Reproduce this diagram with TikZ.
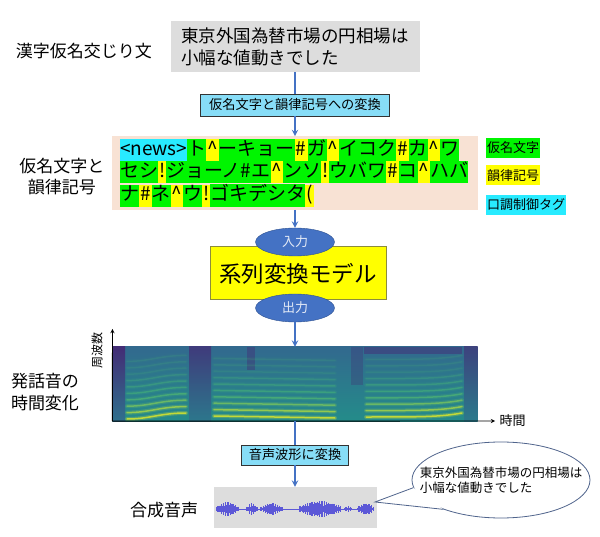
\documentclass[tikz,border=0pt]{standalone}
\usepackage{fontspec}
\setmainfont{Noto Sans CJK JP}
\usetikzlibrary{shapes.geometric,positioning}

\definecolor{boxgray}{RGB}{221,221,221}
\definecolor{convcyan}{RGB}{135,221,247}
\definecolor{peach}{RGB}{248,226,212}
\definecolor{kanagreen}{RGB}{0,245,0}
\definecolor{prosyellow}{RGB}{255,255,0}
\definecolor{tagcyan}{RGB}{40,235,255}
\definecolor{arrowblue}{RGB}{68,114,196}
\definecolor{ioedge}{RGB}{47,82,143}
\definecolor{modeledge}{RGB}{140,140,60}
\definecolor{bubbleedge}{RGB}{80,100,140}
\definecolor{specDark}{RGB}{72,30,112}
\definecolor{specTop}{RGB}{50,105,142}
\definecolor{specBot}{RGB}{36,140,138}
\definecolor{specYellow}{RGB}{215,228,45}
\definecolor{specGreen}{RGB}{75,190,115}
\definecolor{wavecol}{RGB}{92,88,215}

\newcommand{\hlbox}[2]{{\setlength{\fboxsep}{0pt}\colorbox{#1}{\rule[-6pt]{0pt}{22pt}#2}}}
\newcommand{\kseg}[1]{\hlbox{kanagreen}{#1}}
\newcommand{\pseg}[1]{\hlbox{prosyellow}{\kern1pt#1\kern1pt}}

\tikzset{
  flow/.style={draw=arrowblue, line width=1.8pt, -stealth},
  link/.style={draw=arrowblue, line width=1.8pt},
  lbl/.style={font=\fontsize{17}{22}\selectfont, align=center},
  convbox/.style={draw=black!80, fill=convcyan, line width=0.9pt, font=\fontsize{13.2}{16}\selectfont, inner xsep=9pt, minimum height=22pt},
  iobox/.style={ellipse, draw=ioedge, fill=arrowblue, text=white!85!arrowblue, font=\fontsize{13}{16}\selectfont, minimum width=79pt, minimum height=28pt, inner sep=0pt},
  keybox/.style={font=\fontsize{13}{16}\selectfont, inner xsep=1pt, minimum height=20pt, anchor=west},
  harmonic/.style={line width=1.5pt, line cap=round},
  glow/.style={line width=4pt, line cap=round},
  axis/.style={black, line width=0.9pt, -stealth},
}

\begin{document}
\begin{tikzpicture}[x=1pt, y=-1pt]
\useasboundingbox (0,0) rectangle (600,537);

% input sentence
\node[lbl] (kanjilbl) at (84,51) {漢字仮名交じり文};
\node[fill=boxgray, align=left, font=\fontsize{17.5}{22}\selectfont, minimum width=249pt, minimum height=51pt] (src) at (295,46.5) {東京外国為替市場の円相場は\\小幅な値動きでした};
\node[convbox] (conv1) at (295,105) {仮名文字と韻律記号への変換};
\draw[link] (src) -- (conv1);

% kana and prosody symbols
\node[lbl, font=\fontsize{17}{21}\selectfont] (kanalbl) at (62,177) {仮名文字と\\韻律記号};
\node[fill=peach, align=left, text width=350pt, inner xsep=8pt, inner ysep=3pt, font=\fontsize{19}{22}\selectfont] (kana) at (295,173) {\noindent\hlbox{tagcyan}{<news>}\kseg{ト}\pseg{\textasciicircum}\kseg{ーキョー}\pseg{\#}\kseg{ガ}\pseg{\textasciicircum}\kseg{イコク}\pseg{\#}\kseg{カ}\pseg{\textasciicircum}\kseg{ワ}\\
\kseg{セシ}\pseg{!}\kseg{ジョーノ\#エ}\pseg{\textasciicircum}\kseg{ンソ}\pseg{!}\kseg{ウバワ}\pseg{\#}\kseg{コ}\pseg{\textasciicircum}\kseg{ハバ}\\
\kseg{ナ}\pseg{\#}\kseg{ネ}\pseg{\textasciicircum}\kseg{ウ}\pseg{!}\kseg{ゴキデシタ}\pseg{(}};
\draw[flow] (conv1) -- (kana);

\node[keybox, fill=kanagreen] (key1) at (486,148) {仮名文字};
\node[keybox, fill=prosyellow, below=7pt of key1.south west, anchor=north west] (key2) {韻律記号};
\node[keybox, fill=tagcyan, below=9pt of key2.south west, anchor=north west] (key3) {口調制御タグ};

% model
\node[draw=modeledge, fill=prosyellow, line width=1pt, minimum width=176pt, minimum height=53pt, font=\fontsize{22.5}{26}\selectfont] (model) at (298,273.5) {系列変換モデル};
\node[iobox] (inp) at (295,242) {入力};
\node[iobox] (outp) at (295,308) {出力};
\draw[flow] (kana) -- (inp);

% spectrogram
\node[lbl] (speclbl) at (45,392.5) {発話音の\\時間変化};
\node[inner sep=0pt, minimum width=365pt, minimum height=74pt] (spec) at (295,384) {};
\shade[top color=specTop, bottom color=specBot] (spec.north west) rectangle (spec.south east);
\shade[top color=specDark, bottom color=specTop, opacity=0.8] (112.5,347) rectangle (125,421);
\shade[top color=specDark, bottom color=specTop, opacity=0.6] (189,347) rectangle (211,421);
\fill[specDark, opacity=0.35] (247,347) rectangle (255,370);
\fill[specDark, opacity=0.25] (351,347) rectangle (363,385);
\fill[specDark, opacity=0.4] (364,347) rectangle (462,354);
\shade[top color=specDark, bottom color=specTop, opacity=0.5] (464,347) rectangle (477.5,421);
\foreach \k in {1,...,10}{
  \pgfmathsetmacro\hy{417-6.4*(\k-1)}
  \pgfmathtruncatemacro\mix{max(0,100-30*(\k-1))}
  \pgfmathsetmacro\op{max(0.15,0.95-0.1*\k)}
  \foreach \sty/\fac in {glow/0.3, harmonic/1}{
    \draw[\sty, draw=specYellow!\mix!specGreen, opacity=\op*\fac] (127,\hy+2) .. controls (150,\hy+2) and (160,\hy-4) .. (186,\hy-4);
    \draw[\sty, draw=specYellow!\mix!specGreen, opacity=\op*\fac] (214,\hy-1) -- (335,\hy+1);
    \draw[\sty, draw=specYellow!\mix!specGreen, opacity=\op*\fac] (366,\hy) .. controls (420,\hy) and (440,\hy) .. (462,\hy-4);
  }
}
\coordinate (ytop) at (112.5,329);
\coordinate (xend) at (495,421);
\draw[axis] (spec.south west) -- (ytop);
\draw[axis] (spec.south west) -- (xend);
\node[font=\fontsize{12}{14}\selectfont, rotate=90] (freqlbl) at (97,351) {周波数};
\node[font=\fontsize{13}{16}\selectfont, right=1pt of xend] (timelbl) {時間};
\draw[flow] (outp) -- (spec);

% waveform
\node[convbox, minimum height=20pt, inner xsep=7pt] (conv2) at (295,455) {音声波形に変換};
\draw[link] (spec) -- (conv2);
\node[fill=boxgray, minimum width=163pt, minimum height=41pt, inner sep=0pt] (wave) at (295,507.5) {};
\draw[flow] (conv2) -- (wave);
\node[lbl] (synthlbl) at (164,510) {合成音声};
\draw[wavecol, line width=0.7pt] (218,509) -- (374,509);
\foreach \a/\b/\h in {217/238/7, 247/257/6, 261/282/6, 300/341/8, 345/352/3, 358/374/6}{
  \pgfmathtruncatemacro\n{(\b-\a)/1.1}
  \foreach \i in {0,...,\n}{
    \pgfmathsetmacro\wx{\a+1.1*\i}
    \pgfmathsetmacro\wh{\h*(0.4+0.6*abs(sin(\i*97+\a)))*(0.35+0.65*sin(180*\i/\n))}
    \draw[wavecol, line width=1.3pt] (\wx,509-\wh) -- (\wx,509+\wh);
  }
}

% speech bubble
\node[ellipse, draw=bubbleedge, fill=white, line width=0.8pt, minimum width=178pt, minimum height=76pt, inner sep=0pt] (bubble) at (501,480) {};
\coordinate (tip) at (375,502);
\fill[white] (bubble.185) -- (tip) -- (bubble.207) -- cycle;
\draw[bubbleedge, line width=0.8pt] (bubble.185) -- (tip) -- (bubble.207);
\node[align=left, font=\fontsize{12.5}{15}\selectfont] (saytext) at (bubble) {東京外国為替市場の円相場は\\小幅な値動きでした};
\end{tikzpicture}
\end{document}
